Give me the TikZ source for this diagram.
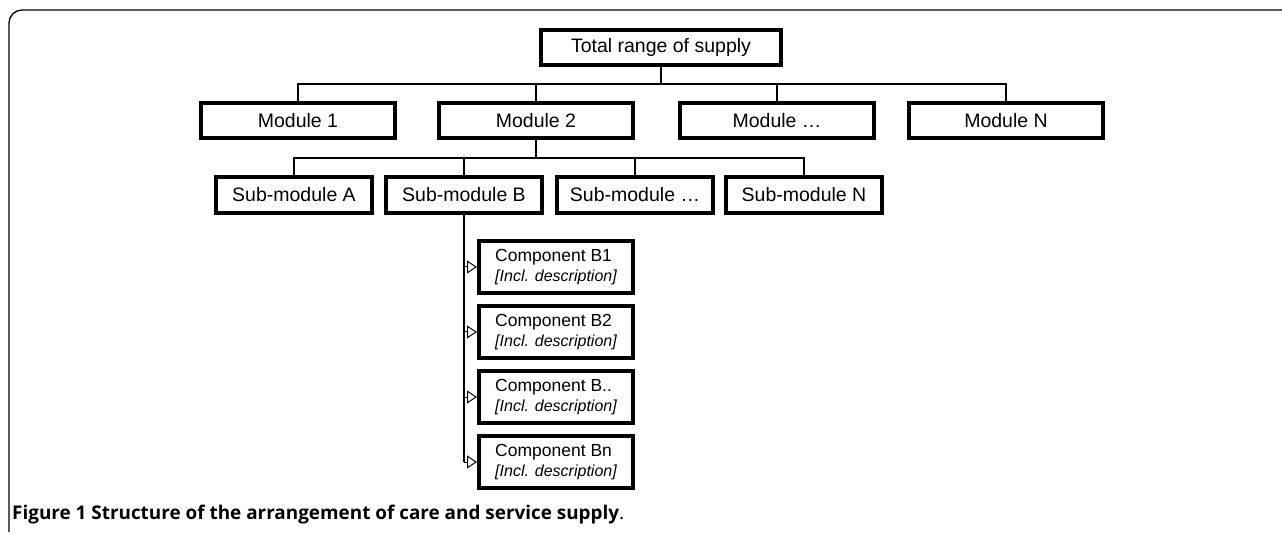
\documentclass[tikz,border=0pt]{standalone}
\usepackage{fontspec}
\setmainfont{Liberation Sans}
\newfontfamily\capfont{Open Sans}
\usetikzlibrary{arrows.meta}
\begin{document}
\begin{tikzpicture}[x=1pt,y=-1pt,
  box/.style={draw, line width=4pt, inner sep=0pt, font=\fontsize{19.5}{23}\selectfont},
  modbox/.style={box, minimum width=194pt, minimum height=35pt},
  subbox/.style={box, minimum width=156pt, minimum height=36pt},
  compbox/.style={draw, line width=4pt, inner sep=0pt, minimum width=154pt, minimum height=52pt, align=left, font=\fontsize{17.5}{20}\selectfont},
  conn/.style={line width=2pt},
  arr/.style={line width=1pt, -{Triangle[open, length=10pt, width=13pt]}}
]
\useasboundingbox (0,0) rectangle (1282,534);
% frame
\draw[line width=1.3pt, rounded corners=13pt] (9,532) -- (9,10) -- (1290,10);

% nodes
\node[box, minimum width=240pt, minimum height=35pt] (total) at (661,47.5) {Total range of supply};
\node[modbox] (m1) at (298,120.5) {Module 1};
\node[modbox] (m2) at (536,120.5) {Module 2};
\node[modbox] (m3) at (777,120.5) {Module \dots};
\node[modbox] (mN) at (1006,120.5) {Module N};

\node[subbox] (sA) at (294,195) {Sub-module A};
\node[subbox] (sB) at (464,195) {Sub-module B};
\node[subbox] (s3) at (635,195) {Sub-module \dots};
\node[subbox] (sN) at (804,195) {Sub-module N};

\node[compbox] (c1) at (556,267) {Component B1\\{\fontsize{16}{20}\selectfont\itshape [Incl. description]}};
\node[compbox] (c2) at (556,332) {Component B2\\{\fontsize{16}{20}\selectfont\itshape [Incl. description]}};
\node[compbox] (c3) at (556,397) {Component B..\\{\fontsize{16}{20}\selectfont\itshape [Incl. description]}};
\node[compbox] (c4) at (556,462) {Component Bn\\{\fontsize{16}{20}\selectfont\itshape [Incl. description]}};

\coordinate (bus1) at (0,84);
\coordinate (bus2) at (0,158);

% connectors level 1
\draw[conn] (total.south) -- (total.south |- bus1);
\draw[conn] (m1.north) -- (m1.north |- bus1) -| (mN.north);
\draw[conn] (m2.north) -- (m2.north |- bus1);
\draw[conn] (m3.north) -- (m3.north |- bus1);

% connectors level 2
\draw[conn] (m2.south) -- (m2.south |- bus2);
\draw[conn] (sA.north) -- (sA.north |- bus2) -| (sN.north);
\draw[conn] (sB.north) -- (sB.north |- bus2);
\draw[conn] (s3.north) -- (s3.north |- bus2);

% components
\draw[line width=1.5pt] (sB.south) -- (sB.south |- c4.west);
\draw[arr] (sB.south |- c1.west) -- (c1.west);
\draw[arr] (sB.south |- c2.west) -- (c2.west);
\draw[arr] (sB.south |- c3.west) -- (c3.west);
\draw[arr] (sB.south |- c4.west) -- (c4.west);

% caption
\node[anchor=base west, inner sep=0pt, font=\capfont\fontsize{18.9}{22}\selectfont] (cap) at (12,519)
  {\textbf{Figure 1 Structure of the arrangement of care and service supply}.};
\end{tikzpicture}
\end{document}
